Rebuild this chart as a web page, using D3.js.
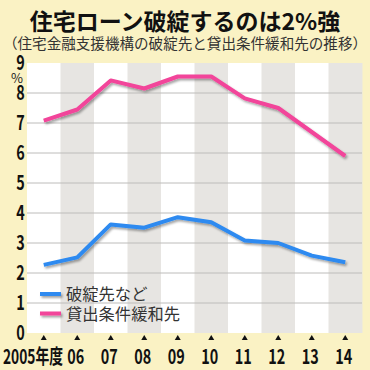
<!DOCTYPE html>
<html lang="ja">
<head>
  <meta charset="UTF-8" />
  <title>住宅ローン破綻するのは2%強</title>
  <script src="https://cdnjs.cloudflare.com/ajax/libs/d3/7.8.4/d3.min.js"></script>
  <style>
    body {
      margin: 0;
      padding: 0;
      background: #faf2c4;
      overflow: hidden;
    }
    svg {
      display: block;
      font-family: "Noto Sans CJK JP", "Noto Sans", sans-serif;
    }
  </style>
</head>
<body>
  <svg width="370" height="370"></svg>
  <script>
    // data (fiscal years 2005-2014, %)
    const years = ["2005", "06", "07", "08", "09", "10", "11", "12", "13", "14"];
    const hatan = [2.27, 2.52, 3.62, 3.51, 3.86, 3.69, 3.08, 3.0, 2.58, 2.36];
    const kanwa = [7.08, 7.45, 8.42, 8.15, 8.55, 8.55, 7.82, 7.5, 6.7, 5.9];
    const yTicks = [0, 1, 2, 3, 4, 5, 6, 7, 8, 9];
    const seriesNames = ["破綻先など", "貸出条件緩和先"];
    const seriesColors = ["#2d8af0", "#f2449a"];

    const svg = d3.select("svg");

    // soft drop shadow under the lines (user space so flat lines work too)
    const defs = svg.append("defs");
    const shadow = defs.append("filter").attr("id", "shadow")
      .attr("filterUnits", "userSpaceOnUse")
      .attr("x", 0).attr("y", 0).attr("width", 370).attr("height", 370);
    shadow.append("feDropShadow")
      .attr("dx", 1.5).attr("dy", 2).attr("stdDeviation", 1.3)
      .attr("flood-color", "#000").attr("flood-opacity", 0.35);

    const x = d3.scaleBand().domain(years).range([27, 362]).padding(0);
    const y = d3.scaleLinear().domain([0, 9]).range([333, 63]);
    const cx = d => x(d) + x.bandwidth() / 2;

    // titles
    svg.append("text")
      .attr("x", 185).attr("y", 30)
      .attr("text-anchor", "middle")
      .attr("font-size", 23).attr("font-weight", "bold")
      .attr("fill", "#111")
      .text("住宅ローン破綻するのは2%強");

    svg.append("text")
      .attr("x", 3).attr("y", 49)
      .attr("font-size", 14.5)
      .attr("fill", "#333")
      .attr("textLength", 364).attr("lengthAdjust", "spacingAndGlyphs")
      .text("（住宅金融支援機構の破綻先と貸出条件緩和先の推移）");

    // plot background bands
    svg.append("g").selectAll("rect")
      .data(years)
      .enter().append("rect")
      .attr("x", d => x(d))
      .attr("y", y(9))
      .attr("width", x.bandwidth() + 0.5)
      .attr("height", y(0) - y(9))
      .attr("fill", (d, i) => i % 2 ? "#e7e5e2" : "#ffffff");

    // gridlines
    svg.append("g").selectAll("line")
      .data(yTicks.filter(t => t > 0 && t < 9))
      .enter().append("line")
      .attr("x1", 27).attr("x2", 362)
      .attr("y1", d => y(d)).attr("y2", d => y(d))
      .attr("stroke", "#bdbcba").attr("stroke-width", 1);

    // y labels (condensed)
    svg.append("g").selectAll("text")
      .data(yTicks)
      .enter().append("text")
      .attr("transform", d => `translate(20.5,${y(d) + 7}) scale(0.72,1)`)
      .attr("text-anchor", "middle")
      .attr("font-size", 20).attr("font-weight", "bold")
      .attr("fill", "#111")
      .text(d => d);

    svg.append("text")
      .attr("x", 17).attr("y", 83)
      .attr("text-anchor", "middle")
      .attr("font-size", 13)
      .attr("fill", "#222")
      .text("%");

    // x tick triangles
    svg.append("g").selectAll("path")
      .data(years)
      .enter().append("path")
      .attr("d", d => `M${cx(d) - 3},340 L${cx(d) + 3},340 L${cx(d)},335 Z`)
      .attr("fill", "#111");

    // x labels
    const xl = svg.append("g");
    xl.append("text")
      .attr("x", 3).attr("y", 364)
      .attr("font-size", 20).attr("font-weight", "bold")
      .attr("fill", "#111")
      .attr("textLength", 60).attr("lengthAdjust", "spacingAndGlyphs")
      .text(years[0] + "年度");
    xl.selectAll("text.yr")
      .data(years.slice(1))
      .enter().append("text")
      .attr("class", "yr")
      .attr("transform", d => `translate(${cx(d) - 1.5},364) scale(0.72,1)`)
      .attr("text-anchor", "middle")
      .attr("font-size", 20).attr("font-weight", "bold")
      .attr("fill", "#111")
      .text(d => d);

    // lines
    const line = d3.line()
      .x((d, i) => cx(years[i]))
      .y(d => y(d));

    [hatan, kanwa].forEach((vals, k) => {
      svg.append("path")
        .datum(vals)
        .attr("d", line)
        .attr("fill", "none")
        .attr("stroke", seriesColors[k])
        .attr("stroke-width", 4)
        .attr("stroke-linejoin", "round")
        .attr("filter", "url(#shadow)");
    });

    // legend
    const legend = svg.append("g");
    seriesNames.forEach((name, k) => {
      const ly = 294 + k * 19.5;
      legend.append("line")
        .attr("x1", 40).attr("x2", 61)
        .attr("y1", ly).attr("y2", ly)
        .attr("stroke", seriesColors[k]).attr("stroke-width", 4)
        .attr("filter", "url(#shadow)");
      legend.append("text")
        .attr("x", 66).attr("y", ly + 6)
        .attr("font-size", 16.3)
        .attr("fill", "#333")
        .text(name);
    });
  </script>
</body>
</html>
